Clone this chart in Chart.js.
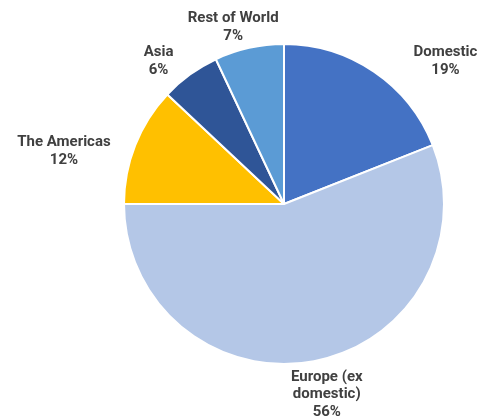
<!DOCTYPE html>
<html>
<head>
<meta charset="utf-8">
<script src="https://cdn.jsdelivr.net/npm/chart.js@4"></script>
<style>
  html, body { margin: 0; padding: 0; background: #ffffff; }
  #wrap { width: 483px; height: 420px; }
</style>
</head>
<body>
<div id="wrap"><canvas id="chart" width="483" height="420"></canvas></div>
<script>
// Revenue split by region (percent)
const categories = ['Domestic', 'Europe (ex domestic)', 'The Americas', 'Asia', 'Rest of World'];
const shares = [19, 56, 12, 6, 7];
const sliceColors = ['#4472C4', '#B4C7E7', '#FFC000', '#2F5597', '#5B9BD5'];

// Wrapped label text, drawn line by line
const labelLines = [['Domestic'], ['Europe (ex', 'domestic)'], ['The Americas'], ['Asia'], ['Rest of World']];
// Offset of each label's first baseline from the outer edge of its slice
const labelNudge = [[71.5, -15.4], [12.8, 19.4], [-71.3, 0.8], [-31.4, -18.3], [-15.9, -25.7]];

const outsideLabels = {
  id: 'outsideLabels',
  afterDatasetsDraw(chart) {
    const { ctx } = chart;
    const meta = chart.getDatasetMeta(0);
    ctx.save();
    ctx.font = 'bold 15px Roboto, "Liberation Sans", sans-serif';
    ctx.fillStyle = '#404040';
    ctx.textAlign = 'center';
    ctx.textBaseline = 'alphabetic';
    const lh = 17.7;
    meta.data.forEach((arc, i) => {
      const p = arc.getProps(['x', 'y', 'startAngle', 'endAngle', 'outerRadius'], true);
      const mid = (p.startAngle + p.endAngle) / 2;
      const ex = p.x + Math.cos(mid) * p.outerRadius;
      const ey = p.y + Math.sin(mid) * p.outerRadius;
      const x = ex + labelNudge[i][0];
      let y = ey + labelNudge[i][1];
      const lines = labelLines[i].concat([shares[i] + '%']);
      lines.forEach((t, k) => ctx.fillText(t, x, y + k * lh));
    });
    ctx.restore();
  }
};

new Chart(document.getElementById('chart'), {
  type: 'pie',
  data: {
    labels: categories,
    datasets: [{
      data: shares,
      backgroundColor: sliceColors,
      borderColor: '#ffffff',
      borderWidth: 2
    }]
  },
  options: {
    responsive: false,
    animation: false,
    layout: { padding: { top: 42, bottom: 54, left: 123, right: 38 } },
    plugins: {
      legend: { display: false },
      tooltip: { enabled: false }
    }
  },
  plugins: [outsideLabels]
});
</script>
</body>
</html>
